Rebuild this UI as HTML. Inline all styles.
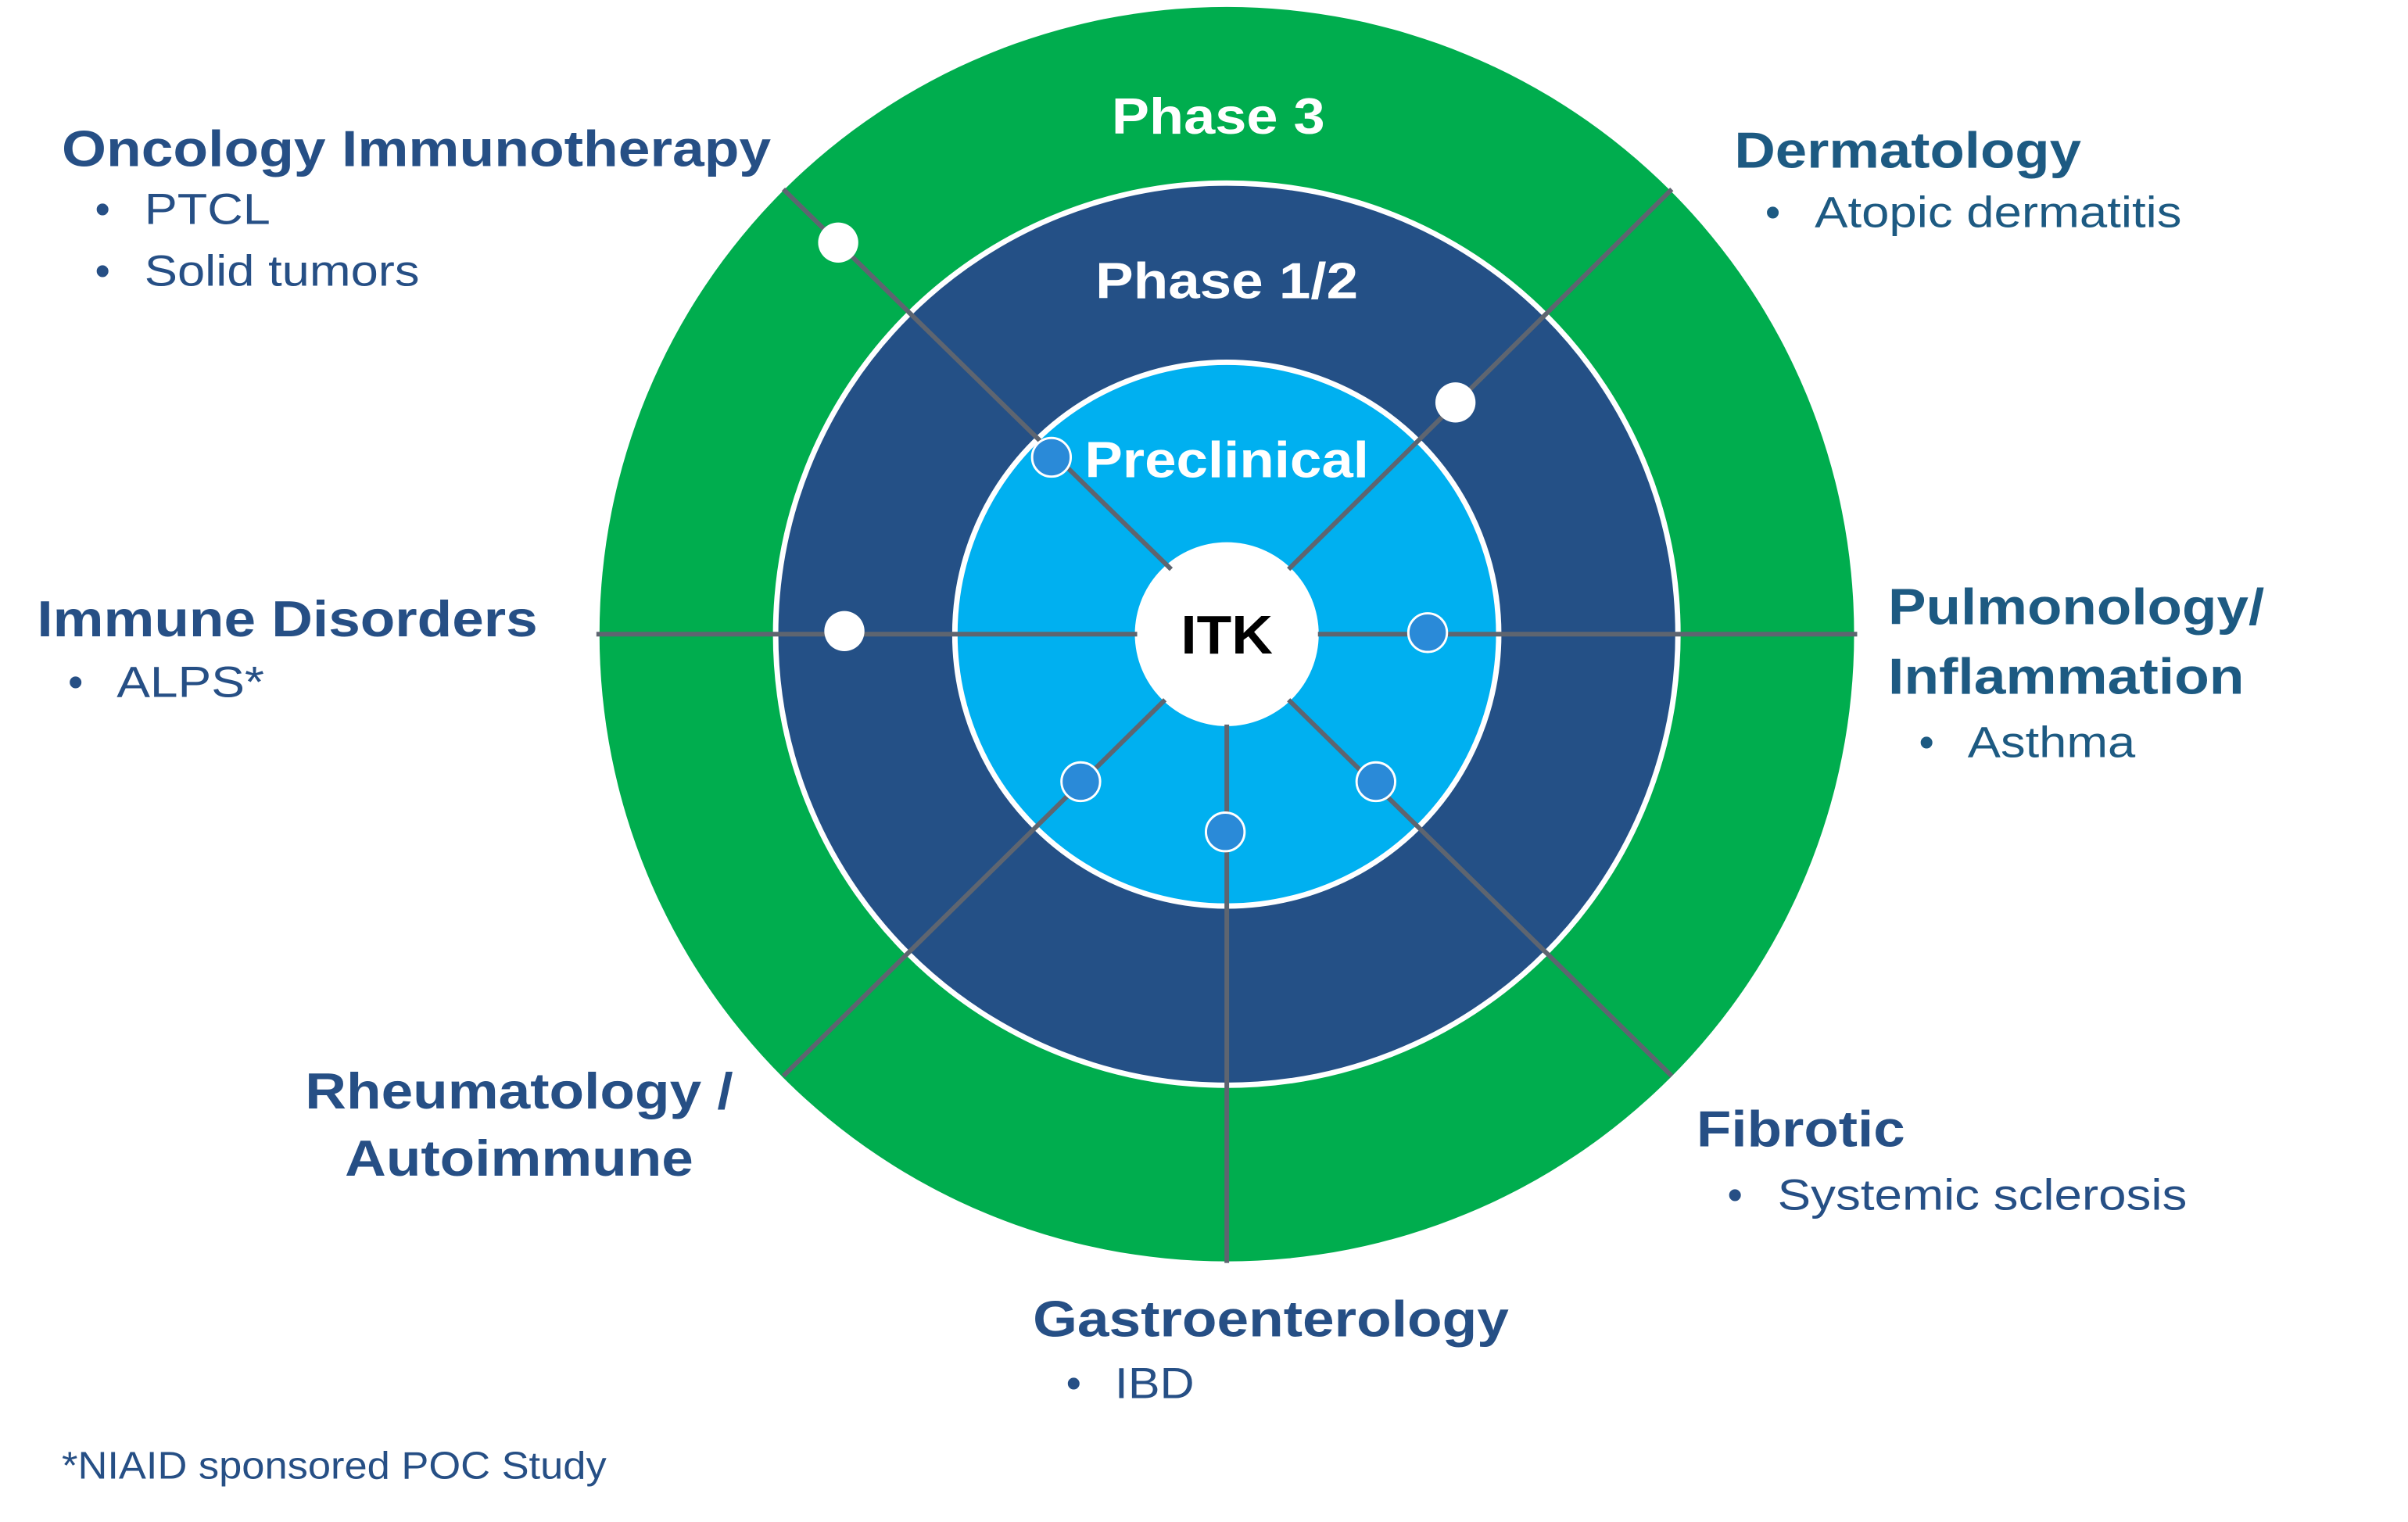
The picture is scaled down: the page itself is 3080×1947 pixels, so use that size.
<!DOCTYPE html>
<html><head><meta charset="utf-8"><style>
html,body{margin:0;padding:0;background:#fff;}
svg{display:block;}
text{font-family:"Liberation Sans",Arial,sans-serif;}
.h{font-weight:bold;font-size:66px;fill:#264f85;}
.t{font-weight:bold;font-size:66px;fill:#1d5a82;}
.b{font-size:56px;fill:#264f85;}
.bt{font-size:56px;fill:#1d5a82;}
.w{font-weight:bold;font-size:66px;fill:#fff;}
</style></head><body>
<svg width="3080" height="1947" viewBox="0 0 3117 1970" preserveAspectRatio="xMinYMin meet" xmlns="http://www.w3.org/2000/svg">
<circle cx="1588" cy="821" r="812" fill="#00ad4e"/>
<circle cx="1588" cy="821" r="584" fill="#245086" stroke="#fff" stroke-width="7"/>
<circle cx="1588" cy="821" r="352" fill="#00b0f0" stroke="#fff" stroke-width="7"/>
<circle cx="1588" cy="821" r="119" fill="#fff"/>
<g stroke="#5e6570" stroke-width="6" fill="none">
<line x1="1516" y1="737" x2="1014" y2="245"/>
<line x1="1668" y1="737" x2="2164" y2="245"/>
<line x1="1472" y1="821" x2="772" y2="821"/>
<line x1="1706" y1="821" x2="2404" y2="821"/>
<line x1="1508" y1="906" x2="1014" y2="1393"/>
<line x1="1588" y1="938" x2="1588" y2="1635"/>
<line x1="1668" y1="906" x2="2164" y2="1393"/>
</g>
<g fill="#fff">
<circle cx="1085" cy="314" r="26"/>
<circle cx="1884" cy="521" r="26"/>
<circle cx="1093" cy="817" r="26"/>
</g>
<g fill="#2a8ad8" stroke="#fff" stroke-width="3">
<circle cx="1361" cy="592" r="25"/>
<circle cx="1848" cy="819" r="25"/>
<circle cx="1399" cy="1012" r="25"/>
<circle cx="1586" cy="1077" r="25"/>
<circle cx="1781" cy="1012" r="25"/>
</g>
<text class="w" x="1577" y="173" text-anchor="middle" textLength="276" lengthAdjust="spacingAndGlyphs">Phase 3</text>
<text class="w" x="1588" y="386" text-anchor="middle" textLength="340" lengthAdjust="spacingAndGlyphs">Phase 1/2</text>
<text class="w" x="1588" y="618" text-anchor="middle" textLength="368" lengthAdjust="spacingAndGlyphs">Preclinical</text>
<text x="1588" y="846" text-anchor="middle" style="font-weight:bold;font-size:70px;fill:#000" textLength="119" lengthAdjust="spacingAndGlyphs">ITK</text>

<text class="h" x="80" y="215" textLength="918" lengthAdjust="spacingAndGlyphs">Oncology Immunotherapy</text>
<text class="b" x="123" y="290">•</text><text class="b" x="187" y="290" textLength="163" lengthAdjust="spacingAndGlyphs">PTCL</text>
<text class="b" x="123" y="370">•</text><text class="b" x="187" y="370" textLength="356" lengthAdjust="spacingAndGlyphs">Solid tumors</text>

<text class="t" x="2245" y="217" textLength="449" lengthAdjust="spacingAndGlyphs">Dermatology</text>
<text class="bt" x="2285" y="294">•</text><text class="bt" x="2349" y="294" textLength="475" lengthAdjust="spacingAndGlyphs">Atopic dermatitis</text>

<text class="h" x="48" y="824" textLength="648" lengthAdjust="spacingAndGlyphs">Immune Disorders</text>
<text class="b" x="88" y="902">•</text><text class="b" x="151" y="902" textLength="191" lengthAdjust="spacingAndGlyphs">ALPS*</text>

<text class="t" x="2444" y="808" textLength="487" lengthAdjust="spacingAndGlyphs">Pulmonology/</text>
<text class="t" x="2444" y="898" textLength="461" lengthAdjust="spacingAndGlyphs">Inflammation</text>
<text class="bt" x="2484" y="980">•</text><text class="bt" x="2547" y="980" textLength="217" lengthAdjust="spacingAndGlyphs">Asthma</text>

<text class="h" x="672" y="1435" text-anchor="middle" textLength="554" lengthAdjust="spacingAndGlyphs">Rheumatology /</text>
<text class="h" x="672" y="1522" text-anchor="middle" textLength="451" lengthAdjust="spacingAndGlyphs">Autoimmune</text>

<text class="h" x="2196" y="1484" textLength="270" lengthAdjust="spacingAndGlyphs">Fibrotic</text>
<text class="b" x="2236" y="1566">•</text><text class="b" x="2301" y="1566" textLength="530" lengthAdjust="spacingAndGlyphs">Systemic sclerosis</text>

<text class="h" x="1337" y="1730" textLength="616" lengthAdjust="spacingAndGlyphs">Gastroenterology</text>
<text class="b" x="1380" y="1810">•</text><text class="b" x="1443" y="1810" textLength="103" lengthAdjust="spacingAndGlyphs">IBD</text>

<text x="80" y="1914" style="font-size:50px;fill:#264f85" textLength="705" lengthAdjust="spacingAndGlyphs">*NIAID sponsored POC Study</text>
</svg>
</body></html>
